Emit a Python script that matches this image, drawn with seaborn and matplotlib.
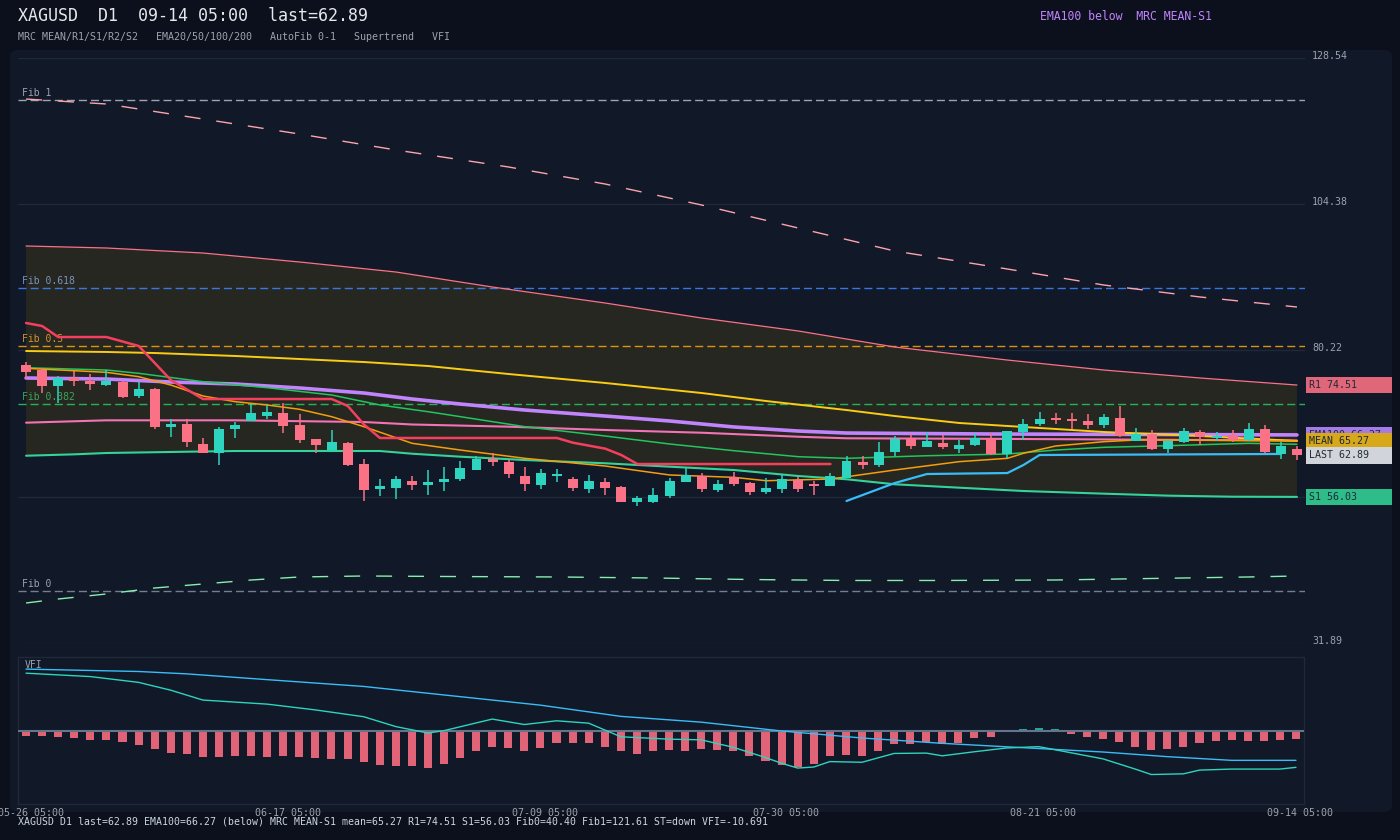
import matplotlib
matplotlib.use("Agg")
import matplotlib.pyplot as plt
import seaborn as sns
from matplotlib.patches import FancyBboxPatch, Rectangle
from matplotlib.transforms import blended_transform_factory

# ---------------- data ----------------
tick_idx = [0, 16, 32, 47, 63, 79]
tick_labels = ["05-26 05:00", "06-17 05:00", "07-09 05:00", "07-30 05:00", "08-21 05:00", "09-14 05:00"]

opens = [77.8, 77.0, 74.4, 75.7, 75.2, 74.5, 75.0, 72.7, 73.9, 67.5,
         68.1, 64.8, 63.2, 67.2, 68.6, 69.4, 69.9, 67.9, 65.6, 63.8,
         64.9, 61.5, 57.4, 57.5, 58.6, 58.0, 58.5, 59.0, 60.5, 62.3,
         61.8, 59.5, 58.0, 59.5, 59.0, 57.3, 58.5, 57.7, 55.2, 55.2,
         56.2, 58.5, 59.5, 57.2, 59.3, 58.3, 56.8, 57.3, 58.8, 58.2,
         57.8, 59.1, 61.8, 61.3, 63.4, 65.6, 64.3, 64.9, 63.9, 64.6,
         65.6, 63.1, 66.7, 68.1, 69.0, 68.9, 68.6, 67.9, 69.1, 65.3,
         66.4, 63.9, 65.1, 66.7, 65.8, 66.2, 65.4, 67.2, 63.1, 63.9]
highs = [78.3, 77.4, 76.0, 76.9, 76.3, 77.0, 75.3, 75.0, 74.0, 68.9,
         68.9, 65.8, 67.6, 68.4, 71.4, 71.2, 71.5, 69.7, 65.6, 67.1,
         65.1, 62.3, 59.0, 59.5, 59.5, 60.5, 61.0, 62.0, 62.8, 63.3,
         62.1, 61.0, 60.6, 60.6, 59.3, 59.6, 59.2, 57.8, 56.2, 57.5,
         59.2, 60.8, 60.0, 58.8, 60.1, 58.5, 59.1, 59.6, 59.3, 58.7,
         60.0, 62.8, 62.8, 65.1, 66.1, 66.4, 66.7, 66.2, 65.4, 66.6,
         66.6, 66.9, 68.9, 70.1, 69.9, 69.9, 69.7, 69.7, 71.0, 67.4,
         67.1, 65.4, 67.4, 67.1, 66.7, 67.1, 68.2, 67.9, 65.1, 64.4]
lows = [75.5, 73.2, 71.6, 74.4, 73.7, 74.4, 72.4, 72.3, 67.3, 65.9,
        64.2, 63.2, 61.3, 65.8, 68.6, 68.9, 66.6, 65.0, 63.2, 63.8,
        61.2, 55.4, 56.2, 55.6, 57.2, 56.4, 57.0, 58.7, 60.5, 61.1,
        59.1, 57.0, 57.3, 58.5, 57.0, 56.7, 56.3, 55.2, 54.5, 55.0,
        55.9, 58.5, 56.8, 56.8, 57.8, 56.3, 56.5, 56.7, 56.8, 56.3,
        57.8, 59.1, 60.6, 61.0, 62.8, 63.9, 64.3, 63.9, 63.3, 64.4,
        62.9, 62.4, 65.4, 67.7, 68.1, 67.2, 67.2, 67.4, 65.9, 65.3,
        63.8, 63.3, 64.9, 64.6, 65.3, 65.1, 65.3, 63.3, 62.3, 62.1]
closes = [76.7, 74.4, 75.7, 75.1, 74.7, 75.2, 72.6, 73.9, 67.6, 68.1,
          65.1, 63.2, 67.2, 67.9, 69.9, 70.1, 67.7, 65.4, 64.6, 65.1,
          61.3, 57.2, 57.8, 59.0, 58.0, 58.5, 59.0, 60.8, 62.3, 61.8,
          59.8, 58.1, 60.0, 59.8, 57.5, 58.6, 57.5, 55.2, 55.8, 56.3,
          58.6, 59.6, 57.3, 58.2, 58.2, 56.8, 57.5, 59.0, 57.3, 57.8,
          59.5, 61.9, 61.3, 63.4, 65.6, 64.4, 65.3, 64.3, 64.6, 65.8,
          63.1, 66.9, 68.0, 68.9, 68.7, 68.5, 67.9, 69.2, 66.1, 66.4,
          63.9, 65.3, 66.9, 65.9, 66.1, 65.6, 67.2, 63.4, 64.4, 62.89]

r1_idx = [0, 5, 11, 17, 23, 29, 36, 42, 48, 54, 61, 67, 73, 79]
r1_vals = [97.48, 97.15, 96.32, 94.84, 93.18, 90.70, 88.06, 85.58, 83.44, 80.79, 78.64, 76.99, 75.67, 74.51]
s1_idx = [0, 3, 5, 9, 13, 22, 24, 27, 31, 36, 40, 44, 48, 51, 54, 58, 62, 67, 71, 75, 79]
s1_vals = [62.83, 63.06, 63.28, 63.45, 63.61, 63.61, 63.16, 62.67, 62.12, 61.58, 61.02, 60.47,
           59.48, 58.94, 58.11, 57.55, 57.00, 56.56, 56.23, 56.06, 56.03]
mean_idx = [0, 5, 13, 21, 24, 30, 36, 42, 48, 51, 60, 79]
mean_vals = [68.29, 68.68, 68.68, 68.40, 67.99, 67.63, 67.08, 66.63, 65.97, 65.71, 65.62, 65.35]
r2_idx = [0, 5, 11, 17, 23, 30, 36, 42, 48, 54, 61, 67, 73, 79]
r2_vals = [121.76, 120.94, 118.46, 115.98, 113.34, 110.53, 107.72, 104.25, 100.45, 96.65, 93.68, 91.03, 89.05, 87.40]
s2_idx = [0, 2, 5, 8, 11, 14, 17, 21, 26, 33, 39, 45, 51, 57, 64, 70, 76, 79]
s2_vals = [38.50, 39.16, 39.99, 40.98, 41.64, 42.30, 42.80, 42.96, 42.88, 42.80, 42.63, 42.38,
           42.22, 42.22, 42.30, 42.55, 42.80, 42.96]

ema200_idx = [0, 5, 8, 13, 17, 21, 25, 30, 36, 42, 46, 51, 54, 58, 62, 67, 73, 79]
ema200_vals = [80.13, 79.97, 79.80, 79.31, 78.81, 78.31, 77.65, 76.33, 74.85, 73.19, 71.87, 70.38,
               69.39, 68.24, 67.58, 66.75, 66.09, 65.26]
ema100_idx = [0, 5, 9, 13, 17, 21, 24, 27, 31, 36, 40, 44, 48, 51, 60, 70, 79]
ema100_vals = [75.67, 75.50, 75.01, 74.68, 74.02, 73.19, 72.20, 71.37, 70.38, 69.39, 68.57, 67.58,
               66.91, 66.58, 66.42, 66.34, 66.27]
ema50_idx = [0, 5, 7, 11, 15, 19, 22, 25, 27, 31, 36, 40, 44, 48, 51, 56, 61, 64, 67, 71, 76, 79]
ema50_vals = [77.37, 76.99, 76.45, 75.06, 74.07, 72.86, 71.21, 70.10, 69.28, 67.63, 66.09, 64.77,
              63.66, 62.67, 62.40, 62.83, 63.11, 63.77, 64.22, 64.49, 64.88, 64.72]
ema20_idx = [0, 5, 7, 9, 11, 13, 15, 17, 19, 21, 24, 27, 31, 36, 40, 44, 46, 50, 54, 58, 61, 62,
             64, 67, 69, 71, 79]
ema20_vals = [77.27, 76.61, 75.89, 74.51, 72.70, 71.76, 71.21, 70.50, 69.28, 67.63, 64.88, 63.77,
              62.40, 61.13, 59.65, 59.26, 58.70, 58.98, 60.47, 61.85, 62.40, 63.23, 64.44, 65.15,
              65.43, 65.43, 65.26]

st_dn_idx = [0, 1, 2, 5, 7, 9, 11, 19, 20, 21, 22, 33, 34, 36, 37, 38, 50]
st_dn_vals = [84.76, 84.26, 82.44, 82.44, 80.96, 75.34, 72.20, 72.20, 71.04, 68.0, 65.76, 65.76,
              64.98, 64.0, 62.95, 61.46, 61.46]
st_up_idx = [51, 54, 56, 61, 62, 63, 78]
st_up_vals = [55.35, 58.32, 59.81, 59.97, 61.30, 62.95, 63.12]

fib0, fib1 = 40.40, 121.61
fib_ratios = [1, 0.618, 0.5, 0.382, 0]
fib_names = ["Fib 1", "Fib 0.618", "Fib 0.5", "Fib 0.382", "Fib 0"]
fib_colors = ["#cbd5e1", "#3b82f6", "#f59e0b", "#22c55e", "#94a3b8"]
fib_label_colors = ["#9ca3af", "#7d93bd", "#d4952a", "#3fa35e", "#9ca3af"]

grid_levels = [31.89, 56.05, 80.22, 104.38, 128.54]
# the 56.05 label sits under the S1 box in the reference, so it is not printed
grid_labels = ["31.89", "", "80.22", "104.38", "128.54"]

vfi_hist = [-1.37, -1.37, -1.67, -1.96, -2.55, -2.55, -3.14, -4.02, -5.20, -6.37,
            -6.67, -7.55, -7.55, -7.25, -7.25, -7.55, -7.25, -7.55, -7.84, -8.14,
            -8.14, -9.02, -9.90, -10.20, -10.20, -10.78, -9.61, -7.84, -5.78, -4.61,
            -4.90, -5.78, -4.90, -3.43, -3.43, -3.43, -4.61, -5.78, -6.67, -5.78,
            -5.49, -5.78, -5.20, -5.49, -5.78, -7.25, -8.73, -9.90, -10.49, -9.61,
            -7.25, -6.96, -7.25, -5.78, -3.73, -3.73, -3.14, -3.73, -3.43, -1.96,
            -1.67, -0.20, 0.69, 0.98, 0.69, -0.78, -1.67, -2.25, -3.14, -4.61,
            -5.49, -5.20, -4.61, -3.43, -2.84, -2.55, -2.84, -2.84, -2.55, -2.25]
vfi_idx = [0, 4, 7, 9, 11, 15, 18, 21, 23, 25, 26, 29, 31, 33, 35, 37, 40, 42, 44, 46, 47, 48,
           49, 50, 52, 54, 56, 57, 59, 61, 63, 64, 67, 69, 70, 72, 73, 75, 78, 79]
vfi_vals = [17.0, 16.0, 14.3, 12.0, 9.1, 7.9, 6.2, 4.2, 1.3, -0.6, 0.1, 3.5, 1.9, 3.0, 2.3, -1.7,
            -2.4, -2.6, -4.8, -7.8, -9.5, -10.9, -10.6, -9.0, -9.2, -6.6, -6.5, -7.3, -6.1, -5.0,
            -4.6, -5.5, -8.2, -11.2, -12.8, -12.6, -11.5, -11.2, -11.2, -10.691]
sig_idx = [0, 7, 10, 15, 21, 26, 32, 37, 42, 47, 52, 57, 62, 67, 71, 75, 79]
sig_vals = [18.2, 17.5, 16.8, 15.1, 13.1, 10.6, 7.6, 4.3, 2.6, 0.0, -2.06, -3.63, -4.90, -6.18,
            -7.55, -8.63, -8.63]

caption = ("XAGUSD D1 last=62.89 EMA100=66.27 (below) MRC MEAN-S1 mean=65.27 R1=74.51 "
           "S1=56.03 Fib0=40.40 Fib1=121.61 ST=down VFI=-10.691")

# ---------------- style ----------------
sns.set_theme(style="dark")
plt.rcParams['font.family'] = ['DejaVu Sans Mono', 'DejaVu Sans']

BG = "#0b101c"
PANEL = "#111827"
GRID = "#1f2937"
FILL = "#272721"
UP = "#2dd4bf"
DN = "#fb7185"

W, H = 1400, 840
fig = plt.figure(figsize=(14, 8.4), dpi=100, facecolor=BG)
panel = FancyBboxPatch((10 / W, (H - 812) / H), 1382 / W, 762 / H,
                       boxstyle="round,pad=0,rounding_size=0.007",
                       transform=fig.transFigure, facecolor=PANEL,
                       edgecolor="none", zorder=-5)
fig.patches.append(panel)

ax = fig.add_axes([18 / W, (H - 643) / H, 1287 / W, 585 / H])
ax.set_zorder(1)
ax.set_facecolor(PANEL)
ax.set_xlim(-0.5, 79.5)
ax.set_ylim(31.89, 128.54)
for s in ax.spines.values():
    s.set_visible(False)
ax.set_xticks([])
ax.set_yticks([])
ax.grid(False)

blend = blended_transform_factory(ax.transAxes, ax.transData)

for v, lab in zip(grid_levels, grid_labels):
    ax.axhline(v, color=GRID, lw=1.0, zorder=0.3)
    if lab:
        ax.text(1.0054, v + 0.33, lab, transform=blend, ha="left", va="center",
                fontsize=7.2, color="#9ca3af", clip_on=False, zorder=1)

# MRC band fill R1..S1
ax.fill(r1_idx + s1_idx[::-1], r1_vals + s1_vals[::-1], color=FILL, lw=0, zorder=0.6)

# Fib levels
for r, name, c, lc in zip(fib_ratios, fib_names, fib_colors, fib_label_colors):
    lvl = fib0 + r * (fib1 - fib0)
    ax.axhline(lvl, color=c, lw=1.0, linestyle=(0, (5.8, 2.9)), zorder=1.2,
               alpha=0.9 if r not in (0, 1) else 0.75)
    ax.text(-0.25, lvl + 1.16, name, ha="left", va="center", fontsize=7, color=lc, zorder=2)


def sline(axis, xs, ys, color, lw, z, **kw):
    sns.lineplot(x=xs, y=ys, ax=axis, color=color, linewidth=lw, estimator=None,
                 sort=False, legend=False, zorder=z, **kw)


# R2 / S2 dashed
sline(ax, r2_idx, r2_vals, "#fda4af", 1.0, 1.5, linestyle=(0, (11.5, 11.5)))
sline(ax, s2_idx, s2_vals, "#86efac", 1.0, 1.5, linestyle=(0, (11.5, 11.5)))

# MRC lines
sline(ax, r1_idx, r1_vals, "#fb7185", 0.9, 2.0)
sline(ax, s1_idx, s1_vals, "#34d399", 1.5, 2.0)
sline(ax, mean_idx, mean_vals, "#f472b6", 1.5, 2.2)

# EMAs
sline(ax, ema200_idx, ema200_vals, "#facc15", 1.4, 2.5)
sline(ax, ema100_idx, ema100_vals, "#c084fc", 2.6, 2.4)
sline(ax, ema50_idx, ema50_vals, "#22c55e", 1.1, 2.6)
sline(ax, ema20_idx, ema20_vals, "#f59e0b", 1.1, 2.7)

# Supertrend
sline(ax, st_dn_idx, st_dn_vals, "#f43f5e", 1.8, 3.0)
sline(ax, st_up_idx, st_up_vals, "#38bdf8", 1.6, 3.0)
ax.set_xlim(-0.5, 79.5)
ax.set_ylim(31.89, 128.54)
ax.set_xlabel("")
ax.set_ylabel("")

# candles
xs = list(range(len(opens)))
cols = [UP if c >= o else DN for o, c in zip(opens, closes)]
bottoms = [min(o, c) for o, c in zip(opens, closes)]
heights = [max(abs(c - o), 0.22) for o, c in zip(opens, closes)]
ax.vlines(xs, lows, highs, colors=cols, lw=1.1, zorder=5)
ax.bar(xs, heights, bottom=bottoms, width=0.62, color=cols, linewidth=0, zorder=6)

# right-side value boxes
box_h = 2.76
boxes = [("EMA100 66.27", 66.27, "#a77be6"),
         ("MEAN 65.27", 65.27, "#d6a81a"),
         ("LAST 62.89", 62.89, "#d1d5db"),
         ("R1 74.51", 74.51, "#e0667a"),
         ("S1 56.03", 56.03, "#2ebd89")]
for i, (txt, v, c) in enumerate(boxes):
    z = 10 + i
    ax.add_patch(Rectangle((1.0008, v - box_h / 2), 0.0668, box_h, transform=blend,
                           facecolor=c, edgecolor="none", clip_on=False, zorder=z))
    ax.text(1.0031, v, txt, transform=blend, ha="left", va="center", fontsize=7.2,
            color="#1f2937", clip_on=False, zorder=z + 0.5)

# ---------------- VFI panel ----------------
vax = fig.add_axes([18 / W, 36 / H, 1286 / W, 147 / H])
vax.set_zorder(1)
vax.set_facecolor(PANEL)
vax.set_xlim(-0.5, 79.5)
vax.set_ylim(-21.47, 21.76)
for s in vax.spines.values():
    s.set_color("#1f2937")
    s.set_linewidth(1.0)
vax.grid(False)
hcols = ["#26a69a" if h > 0 else "#e06377" for h in vfi_hist]
vax.bar(xs, vfi_hist, width=0.5, color=hcols, linewidth=0, zorder=2)
vax.axhline(0, color="#64748b", lw=1.5, zorder=3)
sline(vax, sig_idx, sig_vals, "#38bdf8", 1.0, 4)
sline(vax, vfi_idx, vfi_vals, "#2dd4bf", 1.0, 4)
vax.set_xlim(-0.5, 79.5)
vax.set_ylim(-21.47, 21.76)
vax.set_xlabel("")
vax.set_ylabel("")
vax.set_yticks([])
vax.set_xticks([i + 0.28 for i in tick_idx])
vax.set_xticklabels(tick_labels)
vax.tick_params(axis="x", length=0, pad=2.8, labelsize=7.2, labelcolor="#9ca3af")
vax.text(0.0054, 0.946, "VFI", transform=vax.transAxes, ha="left", va="center",
         fontsize=7, color="#9ca3af")

# ---------------- header / footer text ----------------
fig.text(18 / W, 1 - 16 / H, "XAGUSD  D1  09-14 05:00  last=62.89", fontsize=12,
         color="#e5e7eb", ha="left", va="center")
fig.text(18 / W, 1 - 37 / H,
         "MRC MEAN/R1/S1/R2/S2   EMA20/50/100/200   AutoFib 0-1   Supertrend   VFI",
         fontsize=7.2, color="#9ca3af", ha="left", va="center")
fig.text(1040 / W, 1 - 16 / H, "EMA100 below  MRC MEAN-S1", fontsize=8.3,
         color="#c084fc", ha="left", va="center")
fig.text(18 / W, 1 - 822 / H, caption, fontsize=7.1, color="#cbd5e1", ha="left", va="center",
         zorder=5)

fig.savefig("out.png", dpi=100, facecolor=BG)
